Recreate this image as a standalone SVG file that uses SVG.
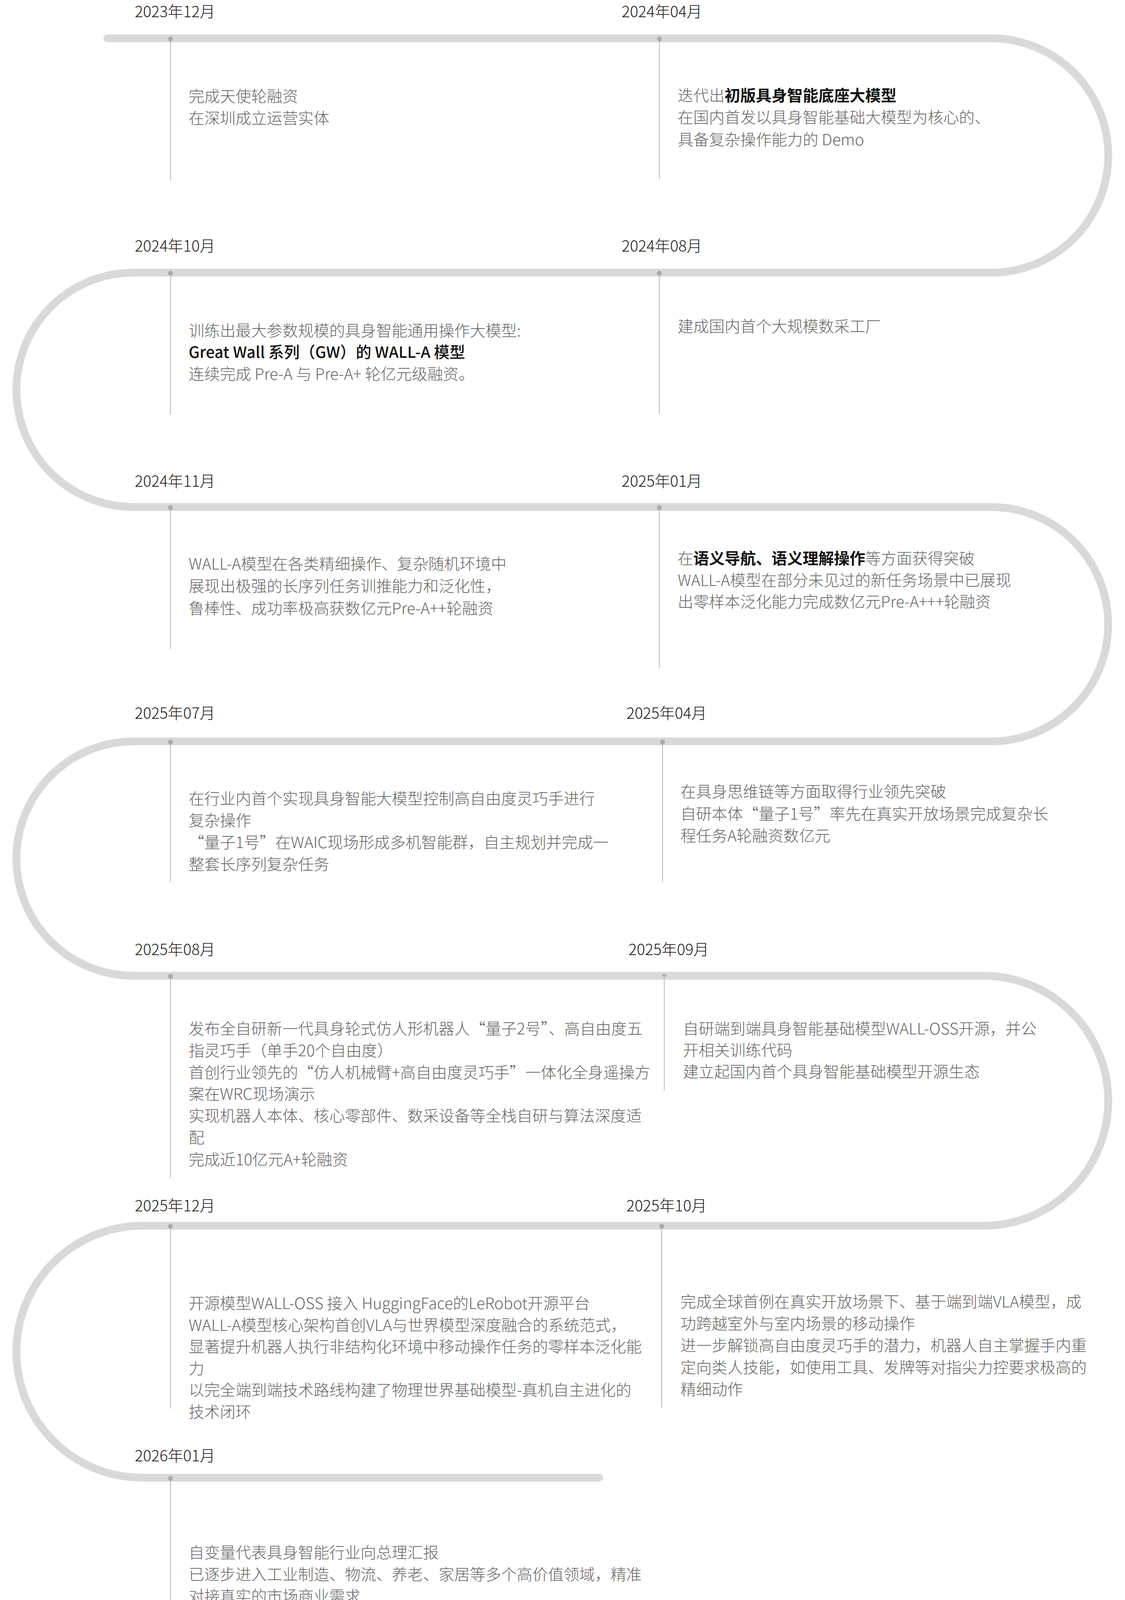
<svg xmlns="http://www.w3.org/2000/svg" width="2880" height="4248" viewBox="0 0 2880 4248">
<style>
.track{fill:none;stroke:#d9d9d9;stroke-width:20;stroke-linecap:round}
.stem{stroke:#bcbcbc;stroke-width:2.2;fill:none}
.dot{fill:#ababab}
.date{font-family:"Noto Sans CJK SC","Noto Sans",sans-serif;font-size:39.5px;fill:#1a1a1a;font-weight:300}
.body{font-family:"Noto Sans CJK SC","Noto Sans",sans-serif;font-size:40px;fill:#666666;font-weight:300}
.hi{fill:#111111;font-weight:700}
.md{fill:#111111;font-weight:500}
</style>
<rect width="2880" height="4248" fill="#ffffff"/>
<g id="connectors">
<path class="track" d="M 275 98 H 2537 A 300 300 0 0 1 2537 698 H 342 A 300 300 0 0 0 342 1298 H 2537 A 300 300 0 0 1 2537 1898 H 342 A 300 300 0 0 0 342 2498 H 2517 A 320 320 0 0 1 2517 3138 H 364.5 A 322.5 322.5 0 0 0 364.5 3783 H 1534"/>
</g>

<g id="node-2023-12">
<line class="stem" x1="436.5" y1="98" x2="436.5" y2="461"/>
<circle class="dot" cx="436.5" cy="99.5" r="6.3"/>
<text class="date" x="345" y="43.5">2023年12月</text>
<text class="body" x="483" y="260.5"><tspan x="483">完成天使轮融资</tspan><tspan x="483" dy="56.3">在深圳成立运营实体</tspan></text>
</g>

<g id="node-2024-04">
<line class="stem" x1="1688" y1="98" x2="1688" y2="459"/>
<circle class="dot" cx="1688" cy="99.5" r="6.3"/>
<text class="date" x="1591.5" y="43.5">2024年04月</text>
<text class="body" x="1735" y="259"><tspan x="1735">迭代出<tspan class="hi">初版具身智能底座大模型</tspan></tspan><tspan x="1735" dy="56.3">在国内首发以具身智能基础大模型为核心的、</tspan><tspan x="1735" dy="56.3">具备复杂操作能力的 Demo</tspan></text>
</g>

<g id="node-2024-10">
<line class="stem" x1="436.5" y1="698" x2="436.5" y2="1061"/>
<circle class="dot" cx="436.5" cy="699.5" r="6.3"/>
<text class="date" x="345" y="643.5">2024年10月</text>
<text class="body" x="483" y="861"><tspan x="483">训练出最大参数规模的具身智能通用操作大模型:</tspan><tspan x="483" dy="55.3" class="md">Great Wall 系列（GW）的 WALL-A 模型</tspan><tspan x="483" dy="55.3">连续完成 Pre-A 与 Pre-A+ 轮亿元级融资。</tspan></text>
</g>

<g id="node-2024-08">
<line class="stem" x1="1688" y1="698" x2="1688" y2="1059"/>
<circle class="dot" cx="1688" cy="699.5" r="6.3"/>
<text class="date" x="1591.5" y="643.5">2024年08月</text>
<text class="body" x="1735" y="850">建成国内首个大规模数采工厂</text>
</g>

<g id="node-2024-11">
<line class="stem" x1="436.5" y1="1298" x2="436.5" y2="1661"/>
<circle class="dot" cx="436.5" cy="1299.5" r="6.3"/>
<text class="date" x="345" y="1245.5">2024年11月</text>
<text class="body" x="483" y="1458"><tspan x="483">WALL-A模型在各类精细操作、复杂随机环境中</tspan><tspan x="483" dy="57">展现出极强的长序列任务训推能力和泛化性，</tspan><tspan x="483" dy="57">鲁棒性、成功率极高获数亿元Pre-A++轮融资</tspan></text>
</g>

<g id="node-2025-01">
<line class="stem" x1="1688" y1="1298" x2="1688" y2="1709"/>
<circle class="dot" cx="1688" cy="1299.5" r="6.3"/>
<text class="date" x="1591.5" y="1245.5">2025年01月</text>
<text class="body" x="1735" y="1444"><tspan x="1735">在<tspan class="hi">语义导航、语义理解操作</tspan>等方面获得突破</tspan><tspan x="1735" dy="55.5">WALL-A模型在部分未见过的新任务场景中已展现</tspan><tspan x="1735" dy="55.5">出零样本泛化能力完成数亿元Pre-A+++轮融资</tspan></text>
</g>

<g id="node-2025-07">
<line class="stem" x1="436.5" y1="1898" x2="436.5" y2="2258"/>
<circle class="dot" cx="436.5" cy="1899.5" r="6.3"/>
<text class="date" x="345" y="1840">2025年07月</text>
<text class="body" x="483" y="2059"><tspan x="483">在行业内首个实现具身智能大模型控制高自由度灵巧手进行</tspan><tspan x="483" dy="56">复杂操作</tspan><tspan x="483" dy="56">“量子1号”在WAIC现场形成多机智能群，自主规划并完成一</tspan><tspan x="483" dy="56">整套长序列复杂任务</tspan></text>
</g>

<g id="node-2025-04">
<line class="stem" x1="1696" y1="1898" x2="1696" y2="2258"/>
<circle class="dot" cx="1696" cy="1899.5" r="6.3"/>
<text class="date" x="1603.5" y="1840">2025年04月</text>
<text class="body" x="1742" y="2041"><tspan x="1742">在具身思维链等方面取得行业领先突破</tspan><tspan x="1742" dy="56.5">自研本体“量子1号”率先在真实开放场景完成复杂长</tspan><tspan x="1742" dy="56.5">程任务A轮融资数亿元</tspan></text>
</g>

<g id="node-2025-08">
<line class="stem" x1="436.5" y1="2498" x2="436.5" y2="3016"/>
<circle class="dot" cx="436.5" cy="2499.5" r="6.3"/>
<text class="date" x="345" y="2445">2025年08月</text>
<text class="body" x="483" y="2648"><tspan x="483">发布全自研新一代具身轮式仿人形机器人“量子2号”、高自由度五</tspan><tspan x="483" dy="55.8">指灵巧手（单手20个自由度）</tspan><tspan x="483" dy="55.8">首创行业领先的“仿人机械臂+高自由度灵巧手”一体化全身遥操方</tspan><tspan x="483" dy="55.8">案在WRC现场演示</tspan><tspan x="483" dy="55.8">实现机器人本体、核心零部件、数采设备等全栈自研与算法深度适</tspan><tspan x="483" dy="55.8">配</tspan><tspan x="483" dy="55.8">完成近10亿元A+轮融资</tspan></text>
</g>

<g id="node-2025-09">
<line class="stem" x1="1700.5" y1="2498" x2="1700.5" y2="2791"/>
<ellipse class="dot" cx="1700.5" cy="2497" rx="6.2" ry="3.2"/>
<text class="date" x="1609" y="2445">2025年09月</text>
<text class="body" x="1748.5" y="2648"><tspan x="1748.5">自研端到端具身智能基础模型WALL-OSS开源，并公</tspan><tspan x="1748.5" dy="55">开相关训练代码</tspan><tspan x="1748.5" dy="55">建立起国内首个具身智能基础模型开源生态</tspan></text>
</g>

<g id="node-2025-12">
<line class="stem" x1="436.5" y1="3138" x2="436.5" y2="3606"/>
<circle class="dot" cx="436.5" cy="3139.5" r="6.3"/>
<text class="date" x="345" y="3101">2025年12月</text>
<text class="body" x="483" y="3351"><tspan x="483">开源模型WALL-OSS 接入 HuggingFace的LeRobot开源平台</tspan><tspan x="483" dy="55.6">WALL-A模型核心架构首创VLA与世界模型深度融合的系统范式，</tspan><tspan x="483" dy="55.6">显著提升机器人执行非结构化环境中移动操作任务的零样本泛化能</tspan><tspan x="483" dy="55.6">力</tspan><tspan x="483" dy="55.6">以完全端到端技术路线构建了物理世界基础模型-真机自主进化的</tspan><tspan x="483" dy="55.6">技术闭环</tspan></text>
</g>

<g id="node-2025-10">
<line class="stem" x1="1694" y1="3138" x2="1694" y2="3603"/>
<circle class="dot" cx="1694" cy="3139.5" r="6.3"/>
<text class="date" x="1603.5" y="3101">2025年10月</text>
<text class="body" x="1742" y="3347"><tspan x="1742">完成全球首例在真实开放场景下、基于端到端VLA模型，成</tspan><tspan x="1742" dy="56">功跨越室外与室内场景的移动操作</tspan><tspan x="1742" dy="56">进一步解锁高自由度灵巧手的潜力，机器人自主掌握手内重</tspan><tspan x="1742" dy="56">定向类人技能，如使用工具、发牌等对指尖力控要求极高的</tspan><tspan x="1742" dy="56">精细动作</tspan></text>
</g>

<g id="node-2026-01">
<line class="stem" x1="436.5" y1="3783" x2="436.5" y2="4244"/>
<circle class="dot" cx="436.5" cy="3784.5" r="6.3"/>
<text class="date" x="345" y="3741">2026年01月</text>
<text class="body" x="483" y="3989"><tspan x="483">自变量代表具身智能行业向总理汇报</tspan><tspan x="483" dy="55.8">已逐步进入工业制造、物流、养老、家居等多个高价值领域，精准</tspan><tspan x="483" dy="55.8">对接真实的市场商业需求</tspan><tspan x="483" dy="55.8">启动全球具身智能基础模型黑客松“具亮计划2026”</tspan><tspan x="483" dy="55.8">完成10亿元A++轮融资</tspan></text>
</g>
</svg>
